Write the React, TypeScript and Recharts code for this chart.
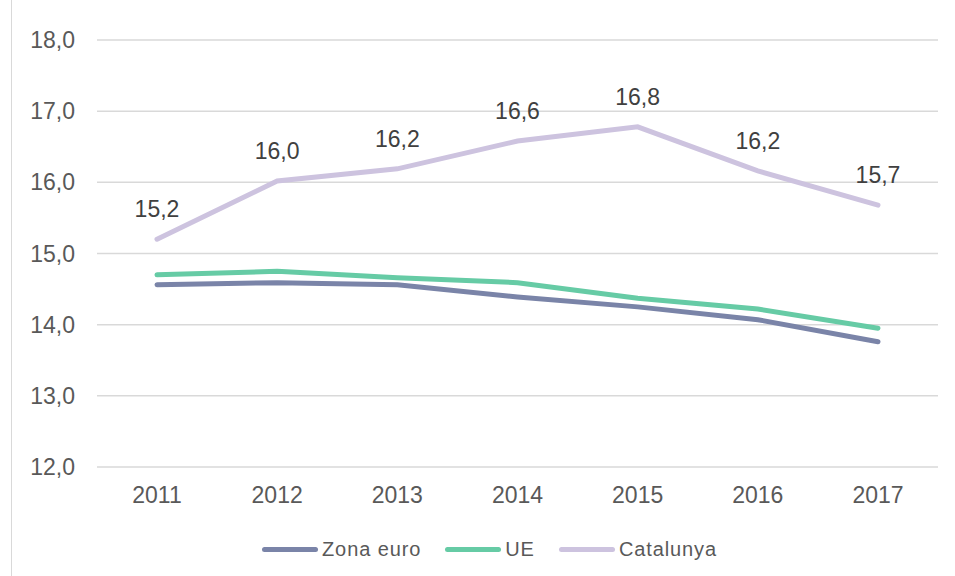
import { CartesianGrid, LabelList, Line, LineChart, XAxis, YAxis } from "recharts";

const years = ["2011", "2012", "2013", "2014", "2015", "2016", "2017"];
const zonaEuro = [14.56, 14.59, 14.56, 14.39, 14.25, 14.07, 13.76];
const ue = [14.7, 14.75, 14.66, 14.59, 14.37, 14.22, 13.95];
const catalunya = [15.2, 16.02, 16.19, 16.58, 16.78, 16.16, 15.68];
const yTicks = [12, 13, 14, 15, 16, 17, 18];

const series = [
  { key: "zona", name: "Zona euro", color: "#7a84a8" },
  { key: "ue", name: "UE", color: "#66cba5" },
  { key: "cat", name: "Catalunya", color: "#cdc3df" },
];

const data = years.map((y, i) => ({
  year: y,
  zona: zonaEuro[i],
  ue: ue[i],
  cat: catalunya[i],
}));

const fmt = (v: number) => v.toFixed(1).replace(".", ",");
const font = "'Liberation Sans', Arial, sans-serif";

function LegendRow() {
  return (
    <div
      style={{
        position: "absolute",
        left: 262,
        top: 536,
        height: 26,
        display: "flex",
        alignItems: "center",
        fontFamily: font,
        fontSize: 20,
        color: "#595959",
        letterSpacing: 0.9,
      }}
    >
      {series.map((s) => (
        <div key={s.key} style={{ display: "flex", alignItems: "center", marginRight: 24 }}>
          <span style={{ display: "inline-block", width: 56, height: 5, borderRadius: 3, background: s.color, marginRight: 4 }} />
          <span>{s.name}</span>
        </div>
      ))}
    </div>
  );
}

export default function App() {
  return (
    <div style={{ position: "absolute", left: 0, top: 0, width: 955, height: 576, background: "#fff" }}>
      <div style={{ position: "absolute", left: 11, top: 0, width: 1, height: 576, background: "#d9d9d9" }} />
      <LineChart width={955} height={576} data={data} margin={{ top: 40, right: 17, left: 0, bottom: 59 }}>
        <CartesianGrid vertical={false} stroke="#d9d9d9" strokeWidth={1.5} />
        <XAxis
          dataKey="year"
          tickLine={false}
          axisLine={false}
          height={50}
          tickMargin={14}
          padding={{ left: 60, right: 60 }}
          tick={{ fill: "#595959", fontSize: 23, fontFamily: font }}
        />
        <YAxis
          type="number"
          domain={[12, 18]}
          ticks={yTicks}
          width={97}
          tickLine={false}
          axisLine={false}
          tickMargin={16}
          tickFormatter={fmt}
          tick={{ fill: "#595959", fontSize: 23, fontFamily: font }}
        />
        {series.map((s) => (
          <Line
            key={s.key}
            dataKey={s.key}
            name={s.name}
            type="linear"
            stroke={s.color}
            strokeWidth={5}
            strokeLinecap="round"
            dot={false}
            isAnimationActive={false}
          >
            {s.key === "cat" && (
              <LabelList
                dataKey="cat"
                position="top"
                offset={22}
                formatter={(v: number) => fmt(v)}
                style={{ fill: "#404040", fontSize: 23, fontFamily: font }}
              />
            )}
          </Line>
        ))}
      </LineChart>
      <LegendRow />
    </div>
  );
}
